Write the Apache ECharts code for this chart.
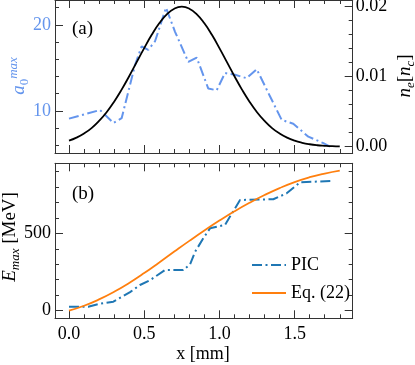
<!DOCTYPE html>
<html>
<head>
<meta charset="utf-8">
<script src="https://cdn.jsdelivr.net/npm/echarts@6/dist/echarts.min.js"></script>
<style>
  html, body { margin: 0; padding: 0; background: #fff; }
  #chart { width: 415px; height: 365px; }
</style>
</head>
<body>
<div id="chart"></div>
<script>
// panel (a): laser a0^max from PIC, x in mm
const a0X = [0, 0.206, 0.295, 0.35, 0.44, 0.483, 0.527, 0.572, 0.645, 0.705, 0.793, 0.849, 0.926, 0.982, 1.037, 1.104, 1.181, 1.248, 1.336, 1.414, 1.491, 1.591, 1.691, 1.735];
const a0Val = [9.1, 10.1, 8.6, 9.15, 15.4, 17.5, 17.1, 18.1, 22.0, 19.2, 15.7, 16.2, 12.6, 12.4, 14.4, 14.2, 13.8, 14.85, 11.7, 8.95, 8.5, 7.0, 6.25, 5.85];

// panel (a): density profile n_e [n_c]
const neX = [0, 0.05, 0.1, 0.15, 0.2, 0.25, 0.3, 0.35, 0.4, 0.45, 0.5, 0.55, 0.6, 0.65, 0.7, 0.75, 0.8, 0.85, 0.9, 0.95, 1.0, 1.05, 1.1, 1.15, 1.2, 1.25, 1.3, 1.35, 1.4, 1.45, 1.5, 1.55, 1.6, 1.65, 1.7, 1.75, 1.8];
const neVal = [0.00086, 0.00129, 0.00188, 0.00266, 0.00368, 0.00493, 0.00644, 0.00816, 0.01007, 0.01208, 0.01409, 0.01599, 0.01763, 0.01891, 0.01972, 0.02, 0.01972, 0.01891, 0.01763, 0.01599, 0.01409, 0.01208, 0.01007, 0.00816, 0.00644, 0.00493, 0.00368, 0.00266, 0.00188, 0.00129, 0.00086, 0.00056, 0.00035, 0.00021, 0.00013, 0.00007, 0.00004];

// panel (b): E_max [MeV]
const picX = [0, 0.128, 0.206, 0.295, 0.406, 0.472, 0.54, 0.638, 0.76, 0.805, 0.838, 0.893, 0.9375, 1.037, 1.137, 1.358, 1.447, 1.536, 1.747];
const picE = [26, 26, 45, 58, 120, 166, 198, 263, 263, 300, 380, 468, 532, 554, 715, 720, 758, 829, 838];
const eqX = [0, 0.1, 0.2, 0.3, 0.4, 0.5, 0.6, 0.7, 0.8, 0.9, 1.0, 1.1, 1.2, 1.3, 1.4, 1.5, 1.6, 1.7, 1.8];
const eqE = [0, 32, 73, 122, 179, 243, 312, 382, 451, 518, 582, 642, 697, 747, 792, 831, 862, 886, 905];

// ticks
const xMajor = [0, 0.5, 1.0, 1.5];
const xMinor = [0.1, 0.2, 0.3, 0.4, 0.6, 0.7, 0.8, 0.9, 1.1, 1.2, 1.3, 1.4, 1.6, 1.7, 1.8];
const a0Major = [10, 20];
const a0Minor = [6, 8, 12, 14, 16, 18, 22];
const neMajor = [0, 0.01, 0.02];
const neMinor = [0.002, 0.004, 0.006, 0.008, 0.012, 0.014, 0.016, 0.018];
const eMajor = [0, 500];
const eMinor = [100, 200, 300, 400, 600, 700, 800, 900];

const zip = (xs, ys) => xs.map((x, i) => [x, ys[i]]);

const FONT = 'Liberation Serif';
const frame = { color: '#333', width: 1 };
const blueA = '#6495ED';
const dashDot = [10, 3.5, 2, 3.5];

// one axis (major or minor ticks, optional frame line and labels)
function axis(gridIndex, position, min, max, ticks, len, opts) {
  opts = opts || {};
  return {
    type: 'value',
    gridIndex: gridIndex,
    position: position,
    min: min,
    max: max,
    splitLine: { show: false },
    axisLine: { show: !!opts.line, onZero: false, lineStyle: frame },
    axisTick: { show: true, inside: true, length: len, customValues: ticks, lineStyle: frame },
    axisLabel: opts.labels
      ? {
          show: true,
          customValues: ticks,
          margin: opts.margin || 5,
          color: opts.color || '#000',
          fontFamily: FONT,
          fontSize: 18,
          formatter: opts.formatter,
        }
      : { show: false },
  };
}

const X_MIN = -0.093, X_MAX = 1.886;
const fmt1 = (v) => v.toFixed(1);

const xAxis = [];
const yAxis = [];
[0, 1].forEach((g) => {
  xAxis.push(axis(g, 'bottom', X_MIN, X_MAX, xMajor, 8, { line: true, labels: g === 1, formatter: fmt1, margin: 7 }));
  xAxis.push(axis(g, 'bottom', X_MIN, X_MAX, xMinor, 4));
  xAxis.push(axis(g, 'top', X_MIN, X_MAX, xMajor, 8, { line: true }));
  xAxis.push(axis(g, 'top', X_MIN, X_MAX, xMinor, 4));
});
// panel (a)
yAxis.push(axis(0, 'left', 5.1, 22.9, a0Major, 8, { line: true, labels: true, color: blueA, margin: 4, formatter: (v) => String(v) }));
yAxis.push(axis(0, 'left', 5.1, 22.9, a0Minor, 4));
yAxis.push(axis(0, 'right', -0.0009, 0.02096, neMajor, 8, { line: true, labels: true, margin: 3, formatter: (v) => v.toFixed(2) }));
yAxis.push(axis(0, 'right', -0.0009, 0.02096, neMinor, 4));
// panel (b)
yAxis.push(axis(1, 'left', -49, 952, eMajor, 8, { line: true, labels: true, margin: 4, formatter: (v) => String(v) }));
yAxis.push(axis(1, 'left', -49, 952, eMinor, 4));
yAxis.push(axis(1, 'right', -49, 952, eMajor, 8, { line: true }));
yAxis.push(axis(1, 'right', -49, 952, eMinor, 4));

const labelRich = {
  i: { fontFamily: FONT, fontSize: 19, fontStyle: 'italic', lineHeight: 24 },
  r: { fontFamily: FONT, fontSize: 19, lineHeight: 24 },
  s: { fontFamily: FONT, fontSize: 13, fontStyle: 'italic', lineHeight: 13, verticalAlign: 'bottom' },
  sr: { fontFamily: FONT, fontSize: 13, lineHeight: 13, verticalAlign: 'bottom' },
  p: { fontFamily: FONT, fontSize: 13, fontStyle: 'italic', lineHeight: 13, verticalAlign: 'top' },
};

function rotLabel(x, y, text, color) {
  return {
    type: 'text',
    x: x,
    y: y,
    rotation: Math.PI / 2,
    style: {
      text: text,
      rich: labelRich,
      fill: color || '#000',
      align: 'center',
      verticalAlign: 'middle',
    },
  };
}

const chart = echarts.init(document.getElementById('chart'));
const option = {
  animation: false,
  backgroundColor: '#fff',
  grid: [
    { left: 55, top: 0, width: 297.7, height: 153, outerBoundsMode: 'none' },
    { left: 55, top: 163.3, width: 297.7, height: 155, outerBoundsMode: 'none' },
  ],
  xAxis: xAxis,
  yAxis: yAxis,
  legend: {
    data: ['PIC', 'Eq. (22)'],
    orient: 'vertical',
    left: 246,
    top: 251,
    itemWidth: 34,
    itemHeight: 14,
    itemGap: 10,
    itemStyle: { opacity: 0 },
    textStyle: { fontFamily: FONT, fontSize: 18, color: '#000' },
  },
  series: [
    {
      name: 'a0',
      type: 'line',
      xAxisIndex: 0,
      yAxisIndex: 0,
      data: zip(a0X, a0Val),
      symbol: 'none',
      lineStyle: { color: blueA, width: 2, type: dashDot },
      itemStyle: { color: blueA },
    },
    {
      name: 'ne',
      type: 'line',
      xAxisIndex: 0,
      yAxisIndex: 2,
      data: zip(neX, neVal),
      symbol: 'none',
      smooth: true,
      lineStyle: { color: '#000', width: 1.8 },
      itemStyle: { color: '#000' },
    },
    {
      name: 'PIC',
      type: 'line',
      xAxisIndex: 4,
      yAxisIndex: 4,
      data: zip(picX, picE),
      symbol: 'none',
      lineStyle: { color: '#1f77b4', width: 2, type: dashDot },
      itemStyle: { color: '#1f77b4' },
    },
    {
      name: 'Eq. (22)',
      type: 'line',
      xAxisIndex: 4,
      yAxisIndex: 4,
      data: zip(eqX, eqE),
      symbol: 'none',
      smooth: true,
      lineStyle: { color: '#ff7f0e', width: 1.8 },
      itemStyle: { color: '#ff7f0e' },
    },
  ],
  graphic: [
    { type: 'text', x: 72, y: 29, style: { text: '(a)', fontFamily: FONT, fontSize: 19, fill: '#000', verticalAlign: 'middle' } },
    { type: 'text', x: 72, y: 194, style: { text: '(b)', fontFamily: FONT, fontSize: 19, fill: '#000', verticalAlign: 'middle' } },
    { type: 'text', x: 203, y: 354, style: { text: 'x [mm]', fontFamily: FONT, fontSize: 18, fill: '#000', align: 'center', verticalAlign: 'middle' } },
    rotLabel(19, 76, '{i|a}{sr|0}{p|max}', blueA),
    rotLabel(405, 76, '{i|n}{s|e}{r|[}{i|n}{s|c}{r|]}'),
    rotLabel(10, 237, '{i|E}{s|max}{r| [MeV]}'),
  ],
};
chart.setOption(option);
</script>
</body>
</html>
